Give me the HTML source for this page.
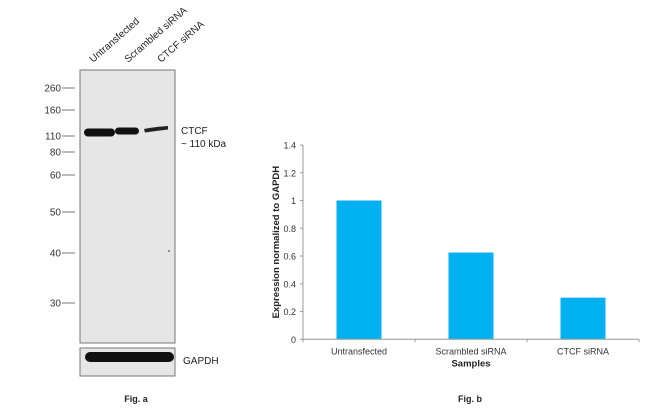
<!DOCTYPE html>
<html><head><meta charset="utf-8"><style>
body{margin:0;background:#fff;}
svg{display:block;font-family:"Liberation Sans",Arial,sans-serif;}
</style></head><body>
<svg width="650" height="417" viewBox="0 0 650 417">
<g>
<g font-size="10" fill="#222">
<text transform="translate(93,63) rotate(-41)">Untransfected</text>
<text transform="translate(128,63) rotate(-41)">Scrambled siRNA</text>
<text transform="translate(161,63) rotate(-41)">CTCF siRNA</text>
</g>
<rect x="80" y="70" width="95" height="273" fill="#e6e6e6" stroke="#777" stroke-width="1"/>
<g id="mw" font-size="10" fill="#333" text-anchor="end"></g>
<g>
<rect x="84" y="128.5" width="31" height="8" rx="4" fill="#111"/>
<rect x="115" y="127.5" width="24" height="7" rx="3.5" fill="#111"/>
<path d="M144,129 Q156,126.5 168,126 L168,129.5 Q156,131 145,132.5 Z" fill="#222"/>
</g>
<circle cx="169" cy="251" r="0.8" fill="#222"/>
<text x="181" y="134" font-size="10" fill="#222">CTCF</text>
<text x="181" y="147" font-size="10" fill="#222">~ 110 kDa</text>
<rect x="80" y="348" width="95" height="28" fill="#e6e6e6" stroke="#777" stroke-width="1"/>
<rect x="85" y="352" width="89" height="10" rx="5" fill="#111"/>
<text x="183" y="364" font-size="10" fill="#222">GAPDH</text>
<text x="136" y="402" font-size="9" font-weight="bold" fill="#222" text-anchor="middle">Fig. a</text>
</g>
<g id="chart"></g>
<text x="470" y="402" font-size="9" font-weight="bold" fill="#222" text-anchor="middle">Fig. b</text>
</svg>
<script>
const mwLabels=["260","160","110","80","60","50","40","30"];
const mwY=[88,110,136,152,175,212,253,303];
const categories=["Untransfected","Scrambled siRNA","CTCF siRNA"];
const values=[1.0,0.625,0.3];
const yTicks=[0,0.2,0.4,0.6,0.8,1,1.2,1.4];
const yTickLabels=["0","0.2","0.4","0.6","0.8","1","1.2","1.4"];
const NS="http://www.w3.org/2000/svg";
function mk(t,a,p){const e=document.createElementNS(NS,t);for(const k in a)e.setAttribute(k,a[k]);p.appendChild(e);return e;}
const mw=document.getElementById('mw');
mwLabels.forEach((l,i)=>{
  const g=mk('g',{},mw);
  
  
  mk('line',{x1:62,x2:75,y1:mwY[i],y2:mwY[i],stroke:'#777','stroke-width':1},g);
  const t=mk('text',{x:61,y:mwY[i]+3.5},g);t.textContent=l;
});
const c=document.getElementById('chart');
const x0=303,x1=639,y0=339.3,yTop=145,vmax=1.4;
const ys=v=>y0-(v/vmax)*(y0-yTop);
const bw=(x1-x0)/categories.length;
const xs=i=>x0+bw*(i+0.5);
const ax=mk('g',{},c);


mk('line',{x1:x0,x2:x0,y1:yTop,y2:y0,stroke:'#999','stroke-width':1},ax);
yTicks.forEach((v,i)=>{
  mk('line',{x1:x0-3,x2:x0,y1:ys(v),y2:ys(v),stroke:'#999'},ax);
  const t=mk('text',{x:x0-7,y:ys(v)+3.5,'font-size':9,fill:'#333','text-anchor':'end'},ax);
  t.textContent=yTickLabels[i];
});
values.forEach((v,i)=>{
  const r=mk('rect',{x:xs(i)-22.5,y:ys(v),width:45,height:y0-ys(v),fill:'#00b0f0'},c);
  
  
  const t=mk('text',{x:xs(i),y:y0+15,'font-size':9,fill:'#333','text-anchor':'middle'},c);
  
  
  t.textContent=categories[i];
});
const xa=mk('line',{x1:x0,x2:x1,y1:y0,y2:y0,stroke:'#999'},c);


for(let i=0;i<=categories.length;i++)mk('line',{x1:x0+bw*i,x2:x0+bw*i,y1:y0,y2:y0+3,stroke:'#999'},c);
const xt=mk('text',{x:(x0+x1)/2,y:y0+27,'font-size':9.5,'font-weight':'bold',fill:'#222','text-anchor':'middle'},c);


xt.textContent='Samples';
const yt=mk('text',{transform:'translate(279,'+((yTop+y0)/2)+') rotate(-90)','font-size':9.5,'font-weight':'bold',fill:'#222','text-anchor':'middle'},c);


yt.textContent='Expression normalized to GAPDH';
</script>
</body></html>
